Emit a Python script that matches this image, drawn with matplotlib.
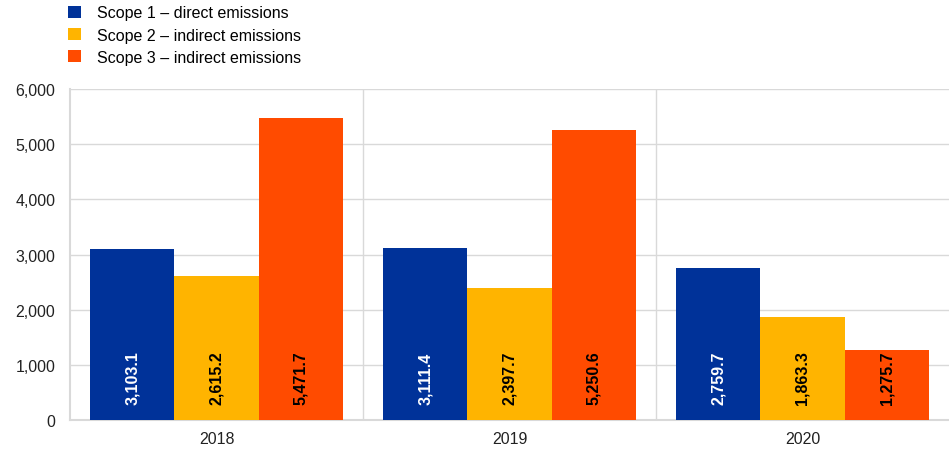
import matplotlib.pyplot as plt
import numpy as np
from matplotlib.patches import Patch

plt.rcParams.update(
    {
        "font.family": ["Liberation Sans", "DejaVu Sans"],
        "font.size": 11.5,
    }
)

YEARS = ["2018", "2019", "2020"]
SERIES = [
    "Scope 1 \u2013 direct emissions",
    "Scope 2 \u2013 indirect emissions",
    "Scope 3 \u2013 indirect emissions",
]
SCOPE1 = [3103.1, 3111.4, 2759.7]
SCOPE2 = [2615.2, 2397.7, 1863.3]
SCOPE3 = [5471.7, 5250.6, 1275.7]

COLORS = ["#003299", "#FFB400", "#FF4B00"]
LABEL_COLORS = ["white", "black", "black"]
GRID = "#d9d9d9"


def main():
    fig = plt.figure(figsize=(9.49, 4.52), dpi=100)
    ax = fig.add_axes([70 / 949, 31 / 452, 879 / 949, 331 / 452])

    x = np.arange(len(YEARS))
    width = 0.287
    values = [SCOPE1, SCOPE2, SCOPE3]
    for i, (vals, color, lc) in enumerate(zip(values, COLORS, LABEL_COLORS)):
        pos = x + (i - 1) * width
        ax.bar(pos, vals, width=width, color=color, zorder=3)
        for p, v in zip(pos, vals):
            ax.text(p, 290, f"{v:,.1f}", rotation=90, ha="center", va="bottom",
                    color=lc, fontweight="bold", fontsize=11.5, zorder=4)

    ax.set_xlim(-0.5, 2.5)
    ax.set_ylim(0, 6000)
    ax.set_yticks(np.arange(0, 6001, 1000))
    ax.yaxis.set_major_formatter(plt.FuncFormatter(lambda v, _: f"{v:,.0f}"))
    ax.set_xticks(x)
    ax.set_xticklabels(YEARS)
    ax.tick_params(axis="both", length=0, labelsize=11.5, colors="#222222")
    ax.tick_params(axis="x", pad=8)
    ax.tick_params(axis="y", pad=10.5)
    ax.grid(axis="y", color=GRID, linewidth=1, zorder=0)
    for b in [0.5, 1.5]:
        ax.axvline(b, color=GRID, linewidth=1, zorder=0)
    for s in ["top", "right"]:
        ax.spines[s].set_visible(False)
    for s in ["left", "bottom"]:
        ax.spines[s].set_color(GRID)
        ax.spines[s].set_linewidth(1.5)

    handles = [Patch(facecolor=c, edgecolor="none") for c in COLORS]
    fig.legend(handles, SERIES, loc="upper left", bbox_to_anchor=(62 / 949, 1.0),
               frameon=False, fontsize=11.5, handlelength=0.82, handleheight=0.82,
               handletextpad=1.0, labelspacing=0.45, borderaxespad=0)

    fig.savefig("out.png", dpi=100)
    plt.close(fig)


if __name__ == "__main__":
    main()
